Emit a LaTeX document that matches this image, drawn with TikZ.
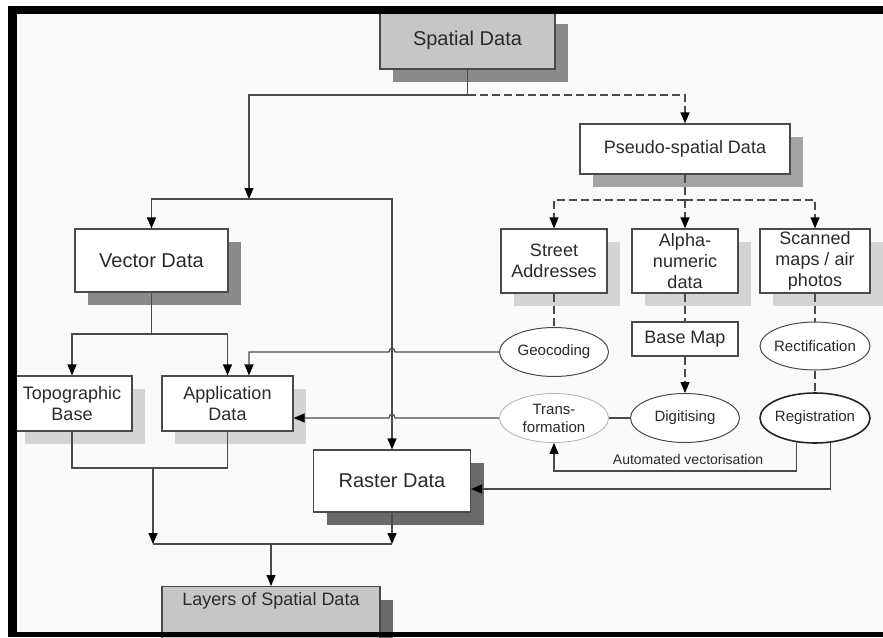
\documentclass[tikz,border=0pt]{standalone}
\usepackage{fontspec}
\setmainfont{Liberation Sans}
\usetikzlibrary{arrows.meta,shapes.geometric,calc,shadows}
\definecolor{bgc}{HTML}{FAFAFA}
\definecolor{txt}{HTML}{2A2A2A}
\definecolor{ln}{HTML}{4A4A4A}
\definecolor{boxgray}{HTML}{C6C6C6}
\definecolor{shdark}{HTML}{8A8A8A}
\definecolor{shmid}{HTML}{A4A4A4}
\definecolor{shlight}{HTML}{D4D4D4}
\definecolor{shdarker}{HTML}{6A6A6A}
\begin{document}
\begin{tikzpicture}[x=1pt,y=-1pt,
  box/.style={rectangle, draw=ln, line width=1.2pt, fill=white, text=txt, align=center, inner sep=0pt},
  graybox/.style={box, fill=boxgray},
  shd/.style={drop shadow={shadow xshift=13pt,shadow yshift=-13pt,fill=#1,opacity=1}},
  ell/.style={ellipse, draw=ln, line width=1pt, fill=white, text=txt, align=center, inner xsep=-4pt, inner ysep=0pt, minimum width=109pt, minimum height=49pt, font=\fontsize{15}{18}\selectfont},
  fbig/.style={font=\fontsize{20}{24}\selectfont},
  fmid/.style={font=\fontsize{18}{21}\selectfont},
  conn/.style={draw=ln, line width=1.2pt},
  arr/.style={-{Triangle[length=11pt,width=9pt,color=black]}},
  dsh/.style={dash pattern=on 8pt off 4pt},
  lbl/.style={text=txt, inner sep=0pt, font=\fontsize{14}{16}\selectfont}
]
\useasboundingbox (0,0) rectangle (883,637);
\fill[white] (0,0) rectangle (883,637);
\fill[bgc] (17,14) rectangle (883,632);

% nodes
\node[graybox, fbig, shd=shdark, minimum width=175pt, minimum height=58pt] (sd) at (467.5,40) {Spatial Data};
\node[box, fmid, shd=shmid, minimum width=210pt, minimum height=50pt] (ps) at (685,149) {Pseudo-spatial Data};
\node[box, fmid, shd=shlight, minimum width=106pt, minimum height=64pt] (sa) at (554,261) {Street\\Addresses};
\node[box, fmid, shd=shlight, minimum width=106pt, minimum height=64pt] (an) at (685,261) {Alpha-\\numeric\\data};
\node[box, fmid, shd=shlight, minimum width=110pt, minimum height=64pt] (sc) at (815,261) {Scanned\\maps / air\\photos};
\node[box, fbig, shd=shdark, minimum width=153pt, minimum height=63pt] (vd) at (151.5,260.5) {Vector Data};
\node[box, fmid, shd=shlight, minimum width=120pt, minimum height=55pt] (tb) at (72,403.5) {Topographic\\Base};
\node[box, fmid, shd=shlight, minimum width=131pt, minimum height=55pt] (ad) at (227.5,403.5) {Application\\Data};
\node[box, fbig, shd=shdarker, minimum width=157pt, minimum height=62pt] (rd) at (392,481) {Raster Data};
\node[graybox, shd=shdarker, minimum width=218pt, minimum height=60pt, anchor=north] (ly) at (271,586) {};
\node[fmid, text=txt, inner sep=0pt] (lyt) at (271,601) {Layers of Spatial Data};
\node[ell] (geo) at (554,352) {Geocoding};
\node[box, fmid, minimum width=106pt, minimum height=34pt] (bm) at (685,339) {Base Map};
\node[ell] (dig) at (685,418) {Digitising};
\node[ell, draw=black!30, line width=0.8pt] (trans) at (554,418) {Trans-\\formation};
\node[ell, minimum width=110pt, minimum height=48pt] (rect) at (815,346) {Rectification};
\node[ell, minimum width=110pt, minimum height=50pt, draw=black!85, line width=1.6pt] (reg) at (815,418) {Registration};
\node[lbl] (avl) at (688,459) {Automated vectorisation};

% junctions
\coordinate (j1) at (467.5,95);
\coordinate (jv) at (249,199);
\coordinate (jp) at (685,200);
\coordinate (jvd) at (151.5,334);
\coordinate (jg) at (249,352);
\coordinate (jb) at (153,468);
\coordinate (jl) at (153,544);
\coordinate (jm) at (271,544);
\coordinate (jav) at (554,471);
\coordinate (jr) at (831,489);

% connectors
\draw[conn] (sd.south) -- (j1);
\draw[conn,arr] (j1) -| (jv);
\draw[conn,dsh,arr] (j1) -| (ps.north);
\draw[conn,arr] (jv) -| (vd.north);
\draw[conn,arr] (jv) -| (rd.north);

\draw[conn,dsh] (ps.south) -- (jp);
\draw[conn,dsh,arr] (jp) -| (sa.north);
\draw[conn,dsh,arr] (jp) -- (an.north);
\draw[conn,dsh,arr] (jp) -| (sc.north);

\draw[conn] (vd.south) -- (jvd);
\draw[conn,arr] (jvd) -| (tb.north);
\draw[conn,arr] (jvd) -| (ad.north);

\draw[conn,arr] (geo.west) -- ($(geo.west -| rd.north)+(3,0)$)
  .. controls +(0,-5) and +(0,-5) .. ($(geo.west -| rd.north)+(-3,0)$)
  -- (jg) -- (jg |- ad.north);
\draw[conn,arr] (trans.west) -- ($(trans.west -| rd.north)+(3,0)$)
  .. controls +(0,-5) and +(0,-5) .. ($(trans.west -| rd.north)+(-3,0)$)
  -- (ad.east |- trans.west);

\draw[conn] (tb.south) |- (jb -| ad.south) -- (ad.south);
\draw[conn,arr] (jb) -- (jl);
\draw[conn] (jl) -- (jl -| rd.south);
\draw[conn,arr] (rd.south) -- (jl -| rd.south);
\draw[conn,arr] (jm) -- (ly.north);

\draw[conn,dsh] (sa.south) -- (geo.north);
\draw[conn,dsh] (an.south) -- (bm.north);
\draw[conn,dsh,arr] (bm.south) -- (dig.north);
\draw[conn] (dig.west) -- (trans.east);
\draw[conn,dsh] (sc.south) -- (rect.north);
\draw[conn,dsh] (rect.south) -- (reg.north);
\draw[conn,arr] (reg.233) |- (jav) -- (trans.south);
\draw[conn,arr] (reg.302) |- (rd.east |- jr);

% frame
\fill[black] (8,6) rectangle (883,14);
\fill[black] (8,6) rectangle (17,637);
\fill[black] (8,632) rectangle (883,637);
\end{tikzpicture}
\end{document}
